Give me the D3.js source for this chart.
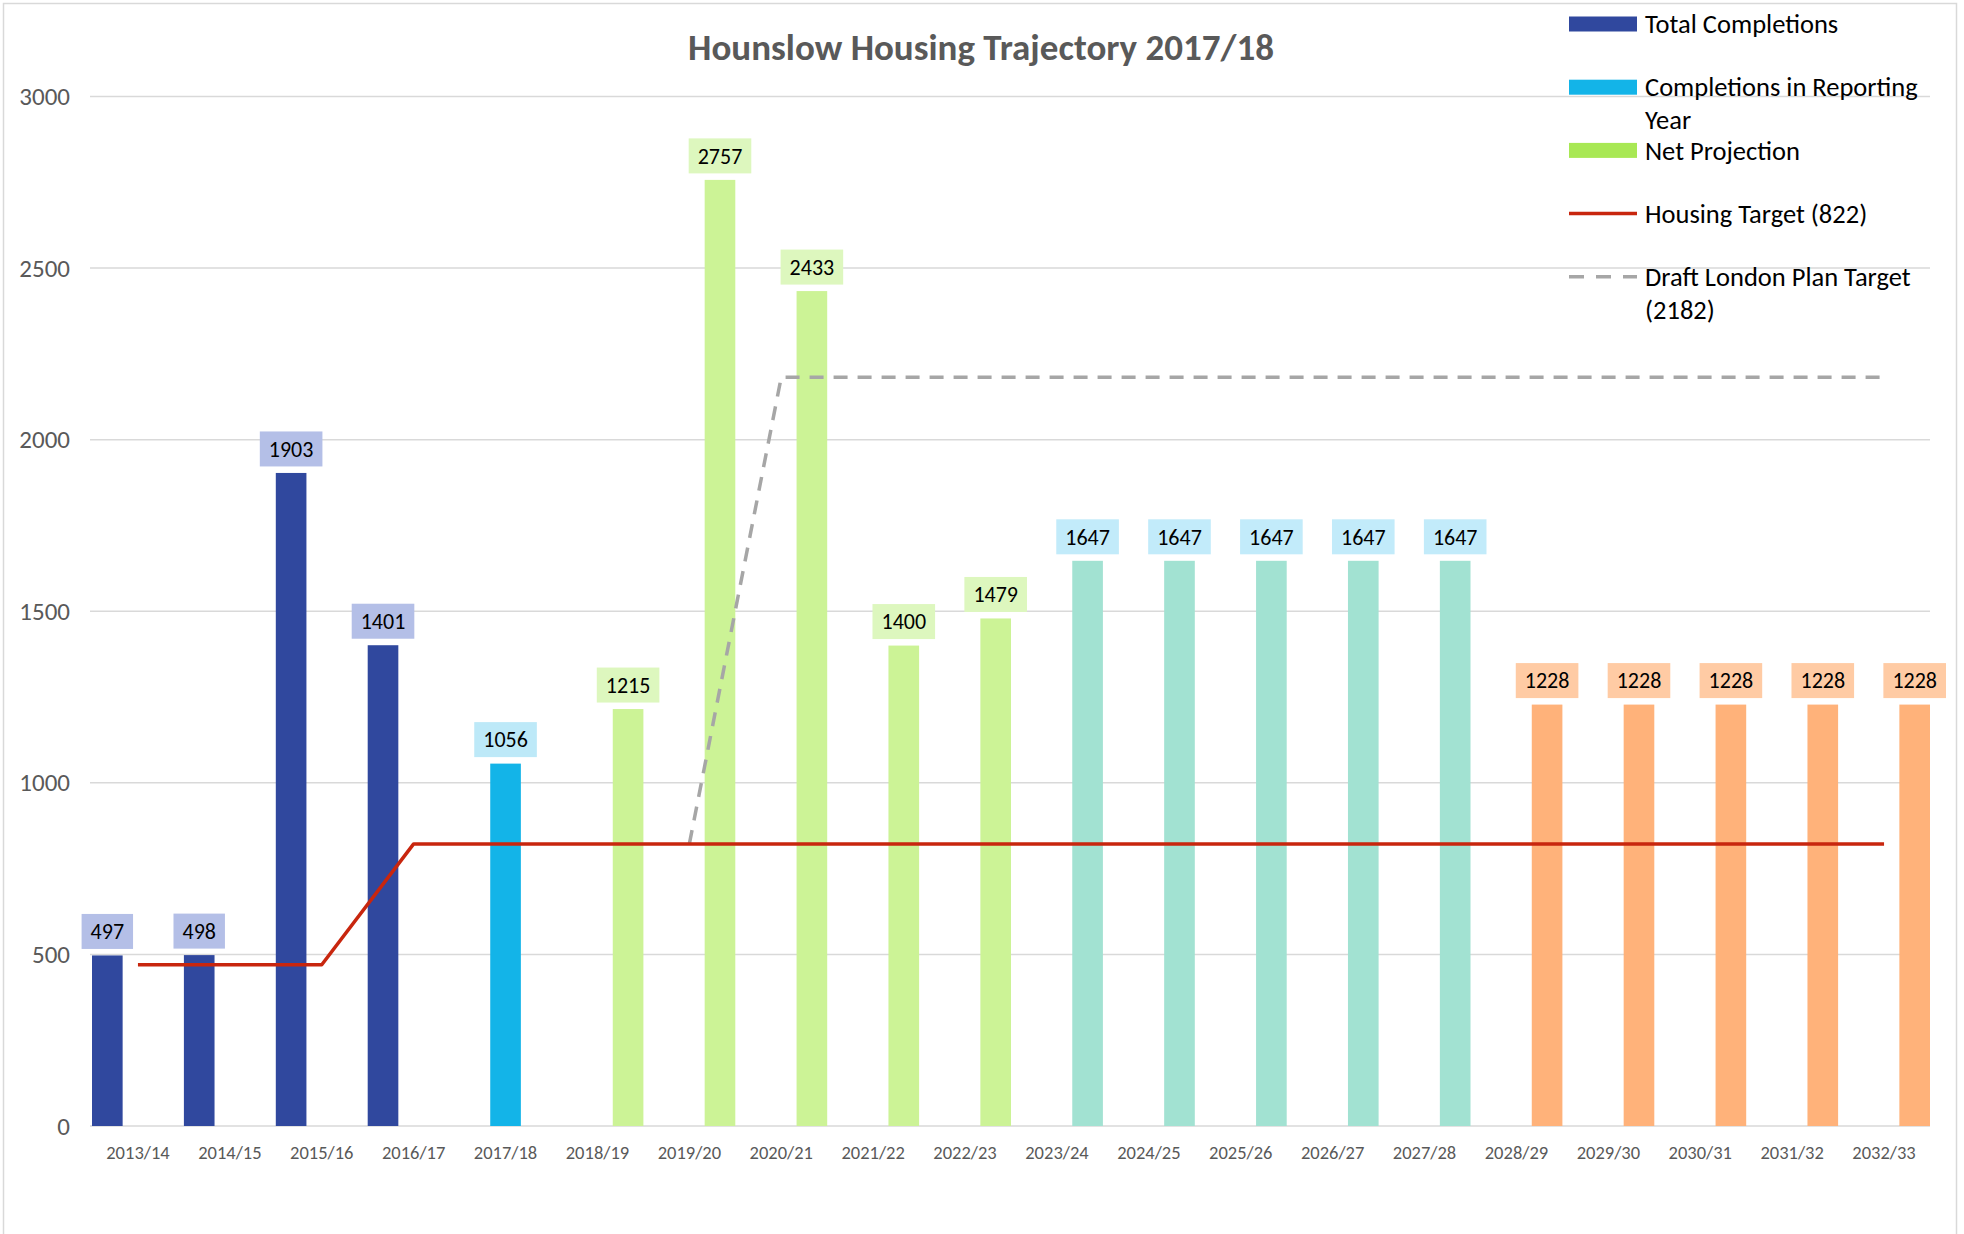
<!DOCTYPE html>
<html>
<head>
<meta charset="utf-8">
<script src="https://cdn.jsdelivr.net/npm/d3@7"></script>
<style>
  body { margin: 0; background: #fff; }
  svg { font-family: Carlito, Calibri, Lato, sans-serif; }
</style>
</head>
<body>
<svg id="chart" width="1964" height="1234"></svg>
<script>
var years = ["2013/14", "2014/15", "2015/16", "2016/17", "2017/18", "2018/19", "2019/20",
  "2020/21", "2021/22", "2022/23", "2023/24", "2024/25", "2025/26", "2026/27", "2027/28",
  "2028/29", "2029/30", "2030/31", "2031/32", "2032/33"];

var totalCompletions = [497, 498, 1903, 1401, null, null, null, null, null, null,
  null, null, null, null, null, null, null, null, null, null];
var reportingYear = [null, null, null, null, 1056, null, null, null, null, null,
  null, null, null, null, null, null, null, null, null, null];
var netProjection = [null, null, null, null, null, 1215, 2757, 2433, 1400, 1479,
  1647, 1647, 1647, 1647, 1647, 1228, 1228, 1228, 1228, 1228];
var housingTarget = [470, 470, 470, 822, 822, 822, 822, 822, 822, 822,
  822, 822, 822, 822, 822, 822, 822, 822, 822, 822];
var londonPlanTarget = [null, null, null, null, null, null, 822, 2182, 2182, 2182,
  2182, 2182, 2182, 2182, 2182, 2182, 2182, 2182, 2182, 2182];
var yTicks = [0, 500, 1000, 1500, 2000, 2500, 3000];

var seriesNames = ["total", "reporting", "net"];

// bar colours; net projection points change colour by phase
function barColor(s, i) {
  if (s == "total") return "#30489e";
  if (s == "reporting") return "#13b4e8";
  if (i >= 15) return "#ffb27a";
  if (i >= 10) return "#a2e2d2";
  return "#ccf396";
}
function labelColor(s, i) {
  if (s == "total") return "#b4bfe7";
  if (s == "reporting") return "#bde9f8";
  if (i >= 15) return "#ffcba4";
  if (i >= 10) return "#c2ebfa";
  return "#ddf7be";
}

var svg = d3.select("#chart");

svg.append("rect")
  .attr("x", 3.5).attr("y", 3.5)
  .attr("width", 1953).attr("height", 1240)
  .attr("fill", "none")
  .attr("stroke", "#d9d9d9")
  .attr("stroke-width", 1.5);

var x = d3.scaleBand()
  .domain(years)
  .range([92, 1930])
  .padding(0);

var xSub = d3.scaleBand()
  .domain(seriesNames)
  .range([0, x.bandwidth()])
  .padding(0);

var y = d3.scaleLinear()
  .domain([0, 3000])
  .range([1126, 96.5]);

// gridlines
svg.append("g")
  .selectAll("line")
  .data(yTicks)
  .enter()
  .append("line")
  .attr("x1", 90)
  .attr("x2", 1930)
  .attr("y1", function(d) { return y(d); })
  .attr("y2", function(d) { return y(d); })
  .attr("stroke", "#d9d9d9")
  .attr("stroke-width", 1.5);

// y axis labels
var yAxis = svg.append("g")
  .attr("transform", "translate(84,0)")
  .call(d3.axisLeft(y).tickValues(yTicks).tickFormat(d3.format("d")).tickSize(0).tickPadding(14));
yAxis.select(".domain").remove();
yAxis.selectAll("text")
  .attr("font-size", "25px")
  .attr("font-family", "Carlito, Calibri, Lato, sans-serif")
  .attr("fill", "#595959");

// x axis labels
var xAxis = svg.append("g")
  .attr("transform", "translate(0," + y(0) + ")")
  .call(d3.axisBottom(x).tickSize(0).tickPadding(20));
xAxis.select(".domain").remove();
xAxis.selectAll("text")
  .attr("font-size", "18.5px")
  .attr("font-family", "Carlito, Calibri, Lato, sans-serif")
  .attr("fill", "#595959");

// flatten the bar series
var bars = [];
[totalCompletions, reportingYear, netProjection].forEach(function(arr, k) {
  arr.forEach(function(v, i) {
    if (v != null) bars.push({ s: seriesNames[k], i: i, year: years[i], value: v });
  });
});

svg.append("g")
  .selectAll("rect")
  .data(bars)
  .enter()
  .append("rect")
  .attr("x", function(d) { return x(d.year) + xSub(d.s); })
  .attr("width", xSub.bandwidth())
  .attr("y", function(d) { return y(d.value); })
  .attr("height", function(d) { return y(0) - y(d.value); })
  .attr("fill", function(d) { return barColor(d.s, d.i); });

// lines
var line = d3.line()
  .defined(function(d) { return d != null; })
  .x(function(d, i) { return x(years[i]) + x.bandwidth() / 2; })
  .y(function(d) { return y(d); });

svg.append("path")
  .datum(londonPlanTarget)
  .attr("d", line)
  .attr("fill", "none")
  .attr("stroke", "#a6a6a6")
  .attr("stroke-width", 3.5)
  .attr("stroke-dasharray", "14,10");

svg.append("path")
  .datum(housingTarget)
  .attr("d", line)
  .attr("fill", "none")
  .attr("stroke", "#c8260e")
  .attr("stroke-width", 3.5)
  .attr("stroke-linejoin", "round");

// data labels
var labels = svg.append("g")
  .selectAll("g")
  .data(bars)
  .enter()
  .append("g")
  .attr("transform", function(d) {
    return "translate(" + (x(d.year) + xSub(d.s) + xSub.bandwidth() / 2) + "," + (y(d.value) - 24) + ")";
  });

labels.append("rect")
  .attr("fill", function(d) { return labelColor(d.s, d.i); });

labels.append("text")
  .text(function(d) { return d.value; })
  .attr("text-anchor", "middle")
  .attr("dy", "0.35em")
  .attr("font-size", "22px")
  .attr("fill", "#000");

labels.each(function() {
  var g = d3.select(this);
  var w = g.select("text").node().getComputedTextLength() + 18;
  g.select("rect")
    .attr("x", -w / 2).attr("y", -17.5)
    .attr("width", w).attr("height", 35);
});

// title
svg.append("text")
  .text("Hounslow Housing Trajectory 2017/18")
  .attr("x", 981)
  .attr("y", 60)
  .attr("text-anchor", "middle")
  .attr("font-size", "37px")
  .attr("font-weight", "bold")
  .attr("fill", "#595959");

// legend
var legendItems = [
  { lines: ["Total Completions"], type: "bar", color: "#30489e" },
  { lines: ["Completions in Reporting", "Year"], type: "bar", color: "#13b4e8" },
  { lines: ["Net Projection"], type: "bar", color: "#a8e854" },
  { lines: ["Housing Target (822)"], type: "line", color: "#c8260e" },
  { lines: ["Draft London Plan Target", "(2182)"], type: "dash", color: "#a6a6a6" }
];

var legend = svg.append("g")
  .selectAll("g")
  .data(legendItems)
  .enter()
  .append("g")
  .attr("transform", function(d, i) { return "translate(1569," + (24 + i * 63.2) + ")"; });

legend.filter(function(d) { return d.type == "bar"; })
  .append("rect")
  .attr("x", 0).attr("y", -7.5)
  .attr("width", 68).attr("height", 15)
  .attr("fill", function(d) { return d.color; });

legend.filter(function(d) { return d.type != "bar"; })
  .append("line")
  .attr("x1", 0).attr("x2", 68)
  .attr("stroke", function(d) { return d.color; })
  .attr("stroke-width", 3.5)
  .attr("stroke-dasharray", function(d) { return d.type == "dash" ? "15,12" : null; });

legend.append("text")
  .attr("x", 76)
  .attr("font-size", "26.5px")
  .attr("fill", "#000")
  .selectAll("tspan")
  .data(function(d) { return d.lines; })
  .enter()
  .append("tspan")
  .attr("x", 76)
  .attr("y", function(d, i) { return i * 33; })
  .attr("dy", "0.35em")
  .text(function(d) { return d; });
</script>
</body>
</html>
